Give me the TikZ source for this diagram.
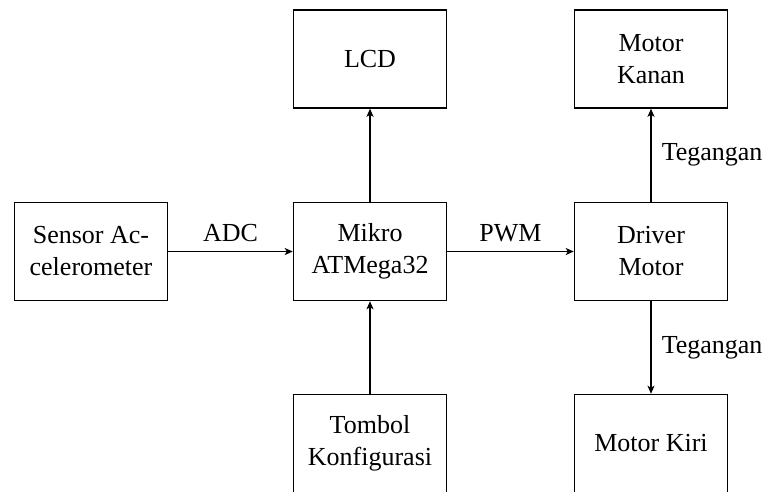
\documentclass[tikz,border=0pt]{standalone}
\usepackage{fontspec}
\setmainfont{Liberation Serif}
\usetikzlibrary{arrows.meta}
\begin{document}
\begin{tikzpicture}[x=1pt,y=-1pt,
  blk/.style={draw,line width=1.5pt,minimum width=153pt,minimum height=98pt,align=center,inner sep=0pt,
    font=\fontsize{26}{32}\selectfont},
  lbl/.style={font=\fontsize{26}{32}\selectfont,inner sep=0pt},
  conn/.style={line width=1.5pt,-{Stealth[length=8pt,width=7pt,inset=2pt]}}]
\useasboundingbox (0,0) rectangle (764,491);
\clip (0,0) rectangle (764,491);
\node[blk] (sensor) at (91,251.5) {Sensor Ac-\\celerometer};
\node[blk] (mikro) at (370,251.5) {Mikro\\ATMega32};
\node[blk] (driver) at (651,251.5) {Driver\\Motor};
\node[blk] (lcd) at (370,59) {LCD};
\node[blk] (kanan) at (651,59) {Motor\\Kanan};
\node[blk] (tombol) at (370,443.5) {Tombol\\Konfigurasi};
\node[blk] (kiri) at (651,443.5) {Motor Kiri};
\draw[conn] (sensor.east) -- node[lbl,above=9pt] (adc) {ADC} (mikro.west);
\draw[conn] (mikro.east) -- node[lbl,above=9pt] (pwm) {PWM} (driver.west);
\draw[conn] (mikro.north) -- (lcd.south);
\draw[conn] (tombol.north) -- (mikro.south);
\draw[conn] (driver.north) -- node[lbl,right=10pt] (t1) {Tegangan} (kanan.south);
\draw[conn] (driver.south) -- node[lbl,right=10pt] (t2) {Tegangan} (kiri.north);
\end{tikzpicture}
\end{document}
